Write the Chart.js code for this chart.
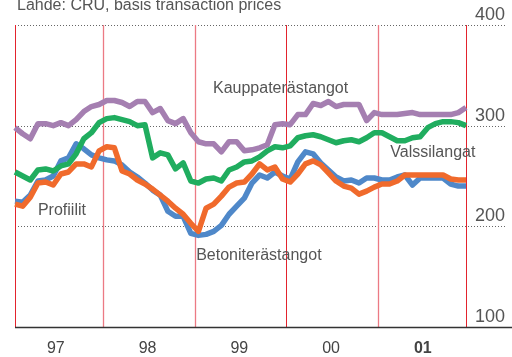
<!DOCTYPE html>
<html>
<head>
<meta charset="utf-8">
<title>Terästuotteiden hinnat</title>
<script src="https://cdn.jsdelivr.net/npm/chart.js@4.4.1/dist/chart.umd.min.js"></script>
<style>
    html, body { margin: 0; padding: 0; background: #fff; }
</style>
</head>
<body>
<canvas id="terasHinnat" width="512" height="357"></canvas>
<script>
    // Vuodet ja kuukaudet (tammi 97 - joulu 01)
    var vuodet = ['97', '98', '99', '00', '01'];
    var kuukaudet = [];
    vuodet.forEach(function (v) {
        for (var k = 1; k <= 12; k++) {
            kuukaudet.push(k + '/' + v);
        }
    });

    var kauppaterastangot = [298, 292, 287, 302, 302, 300, 303, 300, 306, 314, 319, 321,
        325, 325, 323, 319, 324, 324, 313, 317, 305, 302, 307, 293,
        284, 282, 282, 274, 284, 284, 275, 276, 278, 281, 301, 302,
        301, 311, 311, 322, 320, 324, 319, 321, 321, 321, 305, 313,
        311, 311, 311, 312, 313, 311, 311, 311, 311, 311, 313, 318];

    var valssilangat = [254, 250, 246, 256, 257, 255, 260, 262, 272, 287, 293, 303,
        307, 308, 306, 304, 300, 301, 268, 273, 271, 257, 263, 245,
        243, 247, 248, 245, 256, 259, 264, 265, 269, 275, 279, 278,
        280, 288, 290, 291, 289, 286, 283, 285, 286, 284, 288, 293,
        293, 289, 285, 285, 288, 289, 298, 302, 304, 304, 303, 300];

    var profiilit = [225, 224, 231, 245, 246, 250, 265, 268, 282, 277, 271, 268,
        266, 265, 261, 254, 249, 243, 236, 231, 215, 210, 210, 193,
        191, 192, 195, 201, 212, 220, 228, 243, 251, 248, 254, 250,
        247, 264, 274, 272, 263, 256, 249, 245, 246, 243, 248, 248,
        246, 246, 249, 251, 241, 248, 248, 248, 248, 242, 240, 240];

    var betoniterastangot = [222, 220, 229, 243, 244, 241, 252, 254, 262, 262, 259, 275,
        279, 278, 255, 252, 246, 242, 237, 231, 225, 218, 212, 203,
        195, 218, 222, 230, 239, 243, 244, 252, 262, 256, 259, 247,
        244, 252, 262, 265, 261, 253, 245, 240, 238, 232, 235, 239,
        242, 242, 245, 251, 251, 251, 251, 251, 251, 247, 246, 246];

    var yAskeleet = [100, 200, 300, 400];

    // Vuosien rajaviivat kuukausi-indekseinä ja niiden värit
    var vuosiRajat = [0, 11.5, 23.5, 35.5, 47.5, 59];
    var rajaVarit = ['#e3232d', '#ec7a84', '#ec7a84', '#e3232d', '#ec7a84', '#e3232d'];

    // Sarjojen nimet kuvaajan sisällä (kohta: kuukausi-indeksi ja arvo)
    var nimikkeet = [
        { teksti: 'Kauppaterästangot', i: 25.9, arvo: 337 },
        { teksti: 'Valssilangat', i: 49.1, arvo: 273 },
        { teksti: 'Profiilit', i: 3.0, arvo: 216 },
        { teksti: 'Betoniterästangot', i: 23.7, arvo: 171 }
    ];

    var fontti = '"Liberation Sans", Arial, sans-serif';
    var harmaa = '#555';

    // Pisteviivat, punaiset vuosiviivat, nimet ja pohjaviiva
    var taustaViivat = {
        id: 'taustaViivat',
        beforeDatasetsDraw: function (chart) {
            var ctx = chart.ctx;
            var area = chart.chartArea;
            var sx = chart.scales.x;
            var sy = chart.scales.y;
            ctx.save();

            ctx.strokeStyle = '#666';
            ctx.lineWidth = 1;
            ctx.setLineDash([1, 2]);
            yAskeleet.forEach(function (v) {
                if (v === sy.min) return;
                var py = Math.round(sy.getPixelForValue(v)) + 0.5;
                ctx.beginPath();
                ctx.moveTo(area.left, py);
                ctx.lineTo(506, py);
                ctx.stroke();
            });
            ctx.setLineDash([]);

            vuosiRajat.forEach(function (r, n) {
                var px = Math.round(sx.getPixelForValue(r)) + 0.5;
                ctx.strokeStyle = rajaVarit[n];
                ctx.lineWidth = n % 3 === 0 || n === 5 ? 1 : 1.3;
                ctx.beginPath();
                ctx.moveTo(px, area.top);
                ctx.lineTo(px, area.bottom);
                ctx.stroke();
            });
            ctx.restore();
        },
        afterDraw: function (chart) {
            var ctx = chart.ctx;
            var area = chart.chartArea;
            var sx = chart.scales.x;
            var sy = chart.scales.y;
            ctx.save();

            // pohjaviiva
            var pohja = sy.getPixelForValue(100) + 0.5;
            ctx.strokeStyle = '#333';
            ctx.lineWidth = 1.5;
            ctx.beginPath();
            ctx.moveTo(area.left, pohja);
            ctx.lineTo(512, pohja);
            ctx.stroke();

            ctx.fillStyle = harmaa;
            ctx.font = '16px ' + fontti;
            ctx.textAlign = 'left';
            ctx.textBaseline = 'middle';
            nimikkeet.forEach(function (n) {
                ctx.fillText(n.teksti, sx.getPixelForValue(n.i), sy.getPixelForValue(n.arvo));
            });

            ctx.textBaseline = 'alphabetic';
            ctx.fillText('Lähde: CRU, basis transaction prices', 17, 10);
            ctx.restore();
        }
    };

    var ctx = document.getElementById('terasHinnat').getContext('2d');
    var kaavio = new Chart(ctx, {
        type: 'line',
        data: {
            labels: kuukaudet,
            datasets: [
                { label: 'Kauppaterästangot', data: kauppaterastangot, borderColor: '#a57fb1' },
                { label: 'Valssilangat', data: valssilangat, borderColor: '#20ad5f' },
                { label: 'Betoniterästangot', data: betoniterastangot, borderColor: '#f06a2c' },
                { label: 'Profiilit', data: profiilit, borderColor: '#4f88c9' }
            ]
        },
        options: {
            responsive: false,
            animation: false,
            layout: { padding: { left: 15, right: 7, top: 25, bottom: 0 } },
            elements: {
                line: { borderWidth: 5.5, tension: 0, borderJoinStyle: 'round', borderCapStyle: 'butt' },
                point: { radius: 0, hoverRadius: 0 }
            },
            plugins: {
                legend: { display: false },
                tooltip: { enabled: false }
            },
            scales: {
                x: {
                    offset: false,
                    grid: { display: false, drawTicks: false },
                    border: { display: false },
                    ticks: {
                        autoSkip: false,
                        maxRotation: 0,
                        minRotation: 0,
                        padding: 12,
                        labelOffset: -5,
                        color: '#444',
                        font: function (c) {
                            return { family: fontti, size: 16, weight: c.index === 54 ? 'bold' : 'normal' };
                        },
                        callback: function (val, idx) {
                            return idx % 12 === 6 ? vuodet[(idx - 6) / 12] : '';
                        }
                    },
                    afterFit: function (s) { s.height = 30; }
                },
                y: {
                    position: 'right',
                    min: 100,
                    max: 400,
                    grid: { display: false, drawTicks: false },
                    border: { display: false },
                    ticks: {
                        stepSize: 100,
                        padding: 9,
                        labelOffset: -10,
                        crossAlign: 'near',
                        color: harmaa,
                        font: { family: fontti, size: 18 }
                    },
                    afterFit: function (s) { s.width = 39; }
                }
            }
        },
        plugins: [taustaViivat]
    });
</script>
</body>
</html>
